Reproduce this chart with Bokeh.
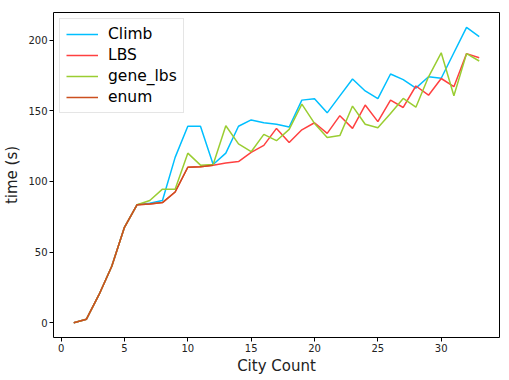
from bokeh.plotting import figure
from bokeh.models import Legend, LegendItem, FixedTicker, Range1d
from bokeh.embed import file_html
from bokeh.resources import INLINE

city = list(range(1, 34))
climb = [0, 2.5, 20, 40, 67.5, 83.5, 84.5, 86.5, 117, 139, 139, 112, 120, 139, 143.5,
         141.5, 140.5, 138.5, 157.5, 158.5, 148.5, 160.5, 172.5, 164, 158.5, 176, 172,
         166, 174, 173, 191, 209, 202.5]
lbs = [0, 2.5, 20, 40, 67.5, 83.5, 84, 85, 92.5, 110, 110.3, 111.5, 113, 114, 120.5,
       125.5, 137.5, 127.5, 136.5, 141.5, 134, 146.5, 137.5, 154, 142.3, 157.5, 152.3,
       167.5, 161, 172.8, 167, 190.4, 187.5]
gene_lbs = [0, 2.5, 20, 40, 67.5, 83.5, 86.5, 94.5, 94.5, 120, 111.5, 112, 139.4, 126.5,
            121, 133.3, 128.8, 136.8, 154.7, 141, 131, 132.4, 153.3, 140.4, 138, 148,
            158.7, 152.5, 174, 191, 160.6, 190.4, 185.2]
enum_x = list(range(1, 13))
enum = [0, 2.5, 20, 40, 67.5, 83.5, 84, 85, 92.5, 110, 110.3, 111.5]

x_ticks = [0, 5, 10, 15, 20, 25, 30]
y_ticks = [0, 50, 100, 150, 200]

FONT = "DejaVu Sans"

p = figure(width=501, height=377, output_backend="svg", toolbar_location=None,
           x_range=Range1d(-0.6, 34.6), y_range=Range1d(-10.45, 219.5),
           min_border_left=53, min_border_right=2, min_border_top=12, min_border_bottom=35)
p.outline_line_color = "black"
p.outline_line_width = 1
p.xgrid.visible = False
p.ygrid.visible = False
p.background_fill_color = "white"
p.border_fill_color = "white"

r1 = p.line(city, climb, line_color="#00bfff", line_width=1.5)
r2 = p.line(city, lbs, line_color="#ff4040", line_width=1.5)
r3 = p.line(city, gene_lbs, line_color="#9acd32", line_width=1.5)
r4 = p.line(enum_x, enum, line_color="#cc4f1f", line_width=1.5)

for ax, ticks in ((p.xaxis[0], x_ticks), (p.yaxis[0], y_ticks)):
    ax.ticker = FixedTicker(ticks=ticks)
    ax.axis_line_color = None
    ax.major_tick_line_color = "black"
    ax.major_tick_in = 0
    ax.major_tick_out = 4
    ax.minor_tick_line_color = None
    ax.major_label_text_font = FONT
    ax.major_label_text_font_size = "10px"
    ax.major_label_text_color = "#222222"
    ax.major_label_standoff = 2
    ax.axis_label_text_font = FONT
    ax.axis_label_text_font_size = "15px"
    ax.axis_label_text_font_style = "normal"
    ax.axis_label_text_color = "#222222"
    ax.axis_label_standoff = 2

p.xaxis.axis_label = "City Count"
p.yaxis.axis_label = "time (s)"
p.yaxis.axis_label_standoff = 4

legend = Legend(items=[
    LegendItem(label="Climb", renderers=[r1]),
    LegendItem(label="LBS", renderers=[r2]),
    LegendItem(label="gene_lbs", renderers=[r3]),
    LegendItem(label="enum", renderers=[r4]),
], location="top_left")
legend.label_text_font = FONT
legend.label_text_font_size = "15.5px"
legend.label_text_color = "black"
legend.glyph_width = 32
legend.glyph_height = 18
legend.label_height = 18
legend.label_standoff = 10
legend.spacing = 3
legend.padding = 6
legend.margin = 6
legend.border_line_color = "#cccccc"
legend.border_line_width = 1
legend.background_fill_alpha = 0.8
p.add_layout(legend)

open("out.html", "w").write(file_html(p, INLINE))
